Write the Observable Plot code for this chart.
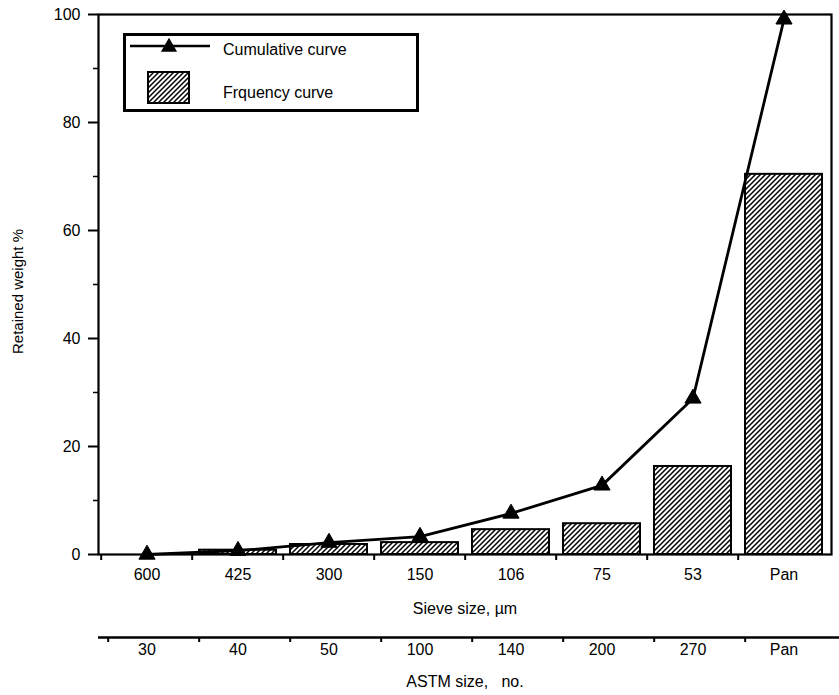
<!DOCTYPE html>
<html><head><meta charset="utf-8">
<script src="https://cdn.jsdelivr.net/npm/d3@7"></script>
<script src="https://cdn.jsdelivr.net/npm/@observablehq/plot@0.6"></script>
<style>
body{margin:0;background:#fff;}
#wrap{position:relative;width:839px;height:695px;font-family:"Liberation Sans",Arial,sans-serif;}
#legend{position:absolute;left:123px;top:33px;}
#defs{position:absolute;left:0;top:0;}
</style></head><body>
<div id="wrap">
<svg id="defs" width="0" height="0"><defs>
<pattern id="hatch" patternUnits="userSpaceOnUse" width="5" height="5">
<path d="M-1,1 l2,-2 M0,5 l5,-5 M4,6 l2,-2" stroke="black" stroke-width="1.5"/>
</pattern></defs></svg>
</div>
<script>
const sieve = ["600", "425", "300", "150", "106", "75", "53", "Pan"];
const astm = ["30", "40", "50", "100", "140", "200", "270", "Pan"];
const frequency = [0, 0.8, 1.85, 2.2, 4.6, 5.7, 16.3, 70.4];
const cumulative = [0, 0.7, 2.2, 3.3, 7.6, 12.8, 28.9, 99.1];
const yMajor = [0, 20, 40, 60, 80, 100];
const yMinor = [10, 30, 50, 70, 90];
const legendLabels = ["Cumulative curve", "Frquency curve"];
const xLabel = "Sieve size, \u00b5m";
const x2Label = "ASTM size,\u00a0\u00a0 no.";
const yLabel = "Retained weight %";

const rows = sieve.map((s, i) => ({sieve: s, astm: astm[i], freq: frequency[i], cum: cumulative[i]}));
const astmOf = new Map(sieve.map((s, i) => [s, astm[i]]));

const W = 839, H = 695, mL = 98, mR = 8, mT = 14, mB = 141;
const bw = (W - mL - mR) / sieve.length;

const chart = Plot.plot({
  width: W, height: H, marginLeft: mL, marginRight: mR, marginTop: mT, marginBottom: mB,
  style: {fontFamily: "Liberation Sans, Arial, sans-serif", fontSize: "16px", color: "black", background: "white", overflow: "visible"},
  x: {type: "band", domain: sieve, padding: 0, axis: null},
  y: {domain: [0, 100], axis: null},
  marks: [
    Plot.barY(rows, {x: "sieve", y: "freq", fill: "url(#hatch)", stroke: "black", strokeWidth: 2, insetLeft: 7, insetRight: 7}),
    Plot.frame({stroke: "black", strokeWidth: 2.2}),
    Plot.axisY(yMajor, {tickSize: 10, tickPadding: 8, strokeWidth: 2, label: null}),
    Plot.axisY(yMinor, {tickSize: 5, tickFormat: () => "", strokeWidth: 1.5, label: null}),
    Plot.axisX({tickSize: 0, tickPadding: 14, label: null}),
    Plot.axisX({tickSize: 6, tickFormat: () => "", dx: -bw / 2, strokeWidth: 2, label: null}),
    Plot.ruleY([0], {dy: 83, strokeWidth: 2.5, insetRight: -8}),
    Plot.axisX({tickSize: 5, tickFormat: () => "", dx: -bw / 2 + 7, dy: 83, strokeWidth: 2, label: null}),
    Plot.axisX({tickSize: 0, tickPadding: 6, tickFormat: d => astmOf.get(d), dy: 83, label: null}),
    Plot.line(rows, {x: "sieve", y: "cum", stroke: "black", strokeWidth: 2.8, clip: false}),
    Plot.dot(rows, {x: "sieve", y: "cum", symbol: "triangle", r: 6, fill: "black", stroke: "black", strokeWidth: 1}),
    Plot.text([xLabel], {text: d => d, frameAnchor: "bottom", dy: 59, fontSize: 16}),
    Plot.text([x2Label], {text: d => d, frameAnchor: "bottom", dy: 132, fontSize: 16}),
    Plot.text([yLabel], {text: d => d, frameAnchor: "left", textAnchor: "middle", rotate: -90, dx: -80, dy: 7, fontSize: 15})
  ]
});
document.getElementById("wrap").appendChild(chart);

// legend
const lg = d3.select("#wrap").append("svg").attr("id", "legend").attr("width", 296).attr("height", 79);
lg.append("rect").attr("x", 1.5).attr("y", 1.5).attr("width", 293).attr("height", 76).attr("fill", "white").attr("stroke", "black").attr("stroke-width", 3);
lg.append("line").attr("x1", 7).attr("x2", 87).attr("y1", 13).attr("y2", 13).attr("stroke", "black").attr("stroke-width", 2.5);
lg.append("path").attr("d", d3.symbol(d3.symbolTriangle, Math.PI * 36)()).attr("transform", "translate(46,14)").attr("fill", "black");
lg.append("rect").attr("x", 25).attr("y", 39).attr("width", 41).attr("height", 31).attr("fill", "url(#hatch)").attr("stroke", "black").attr("stroke-width", 2);
lg.selectAll("text.l").data(legendLabels).join("text").attr("class", "l")
  .attr("x", 100).attr("y", (d, i) => i ? 59 : 16).attr("dy", "0.35em")
  .attr("font-family", "Liberation Sans, Arial, sans-serif").attr("font-size", 16).text(d => d);
</script>
</body></html>
